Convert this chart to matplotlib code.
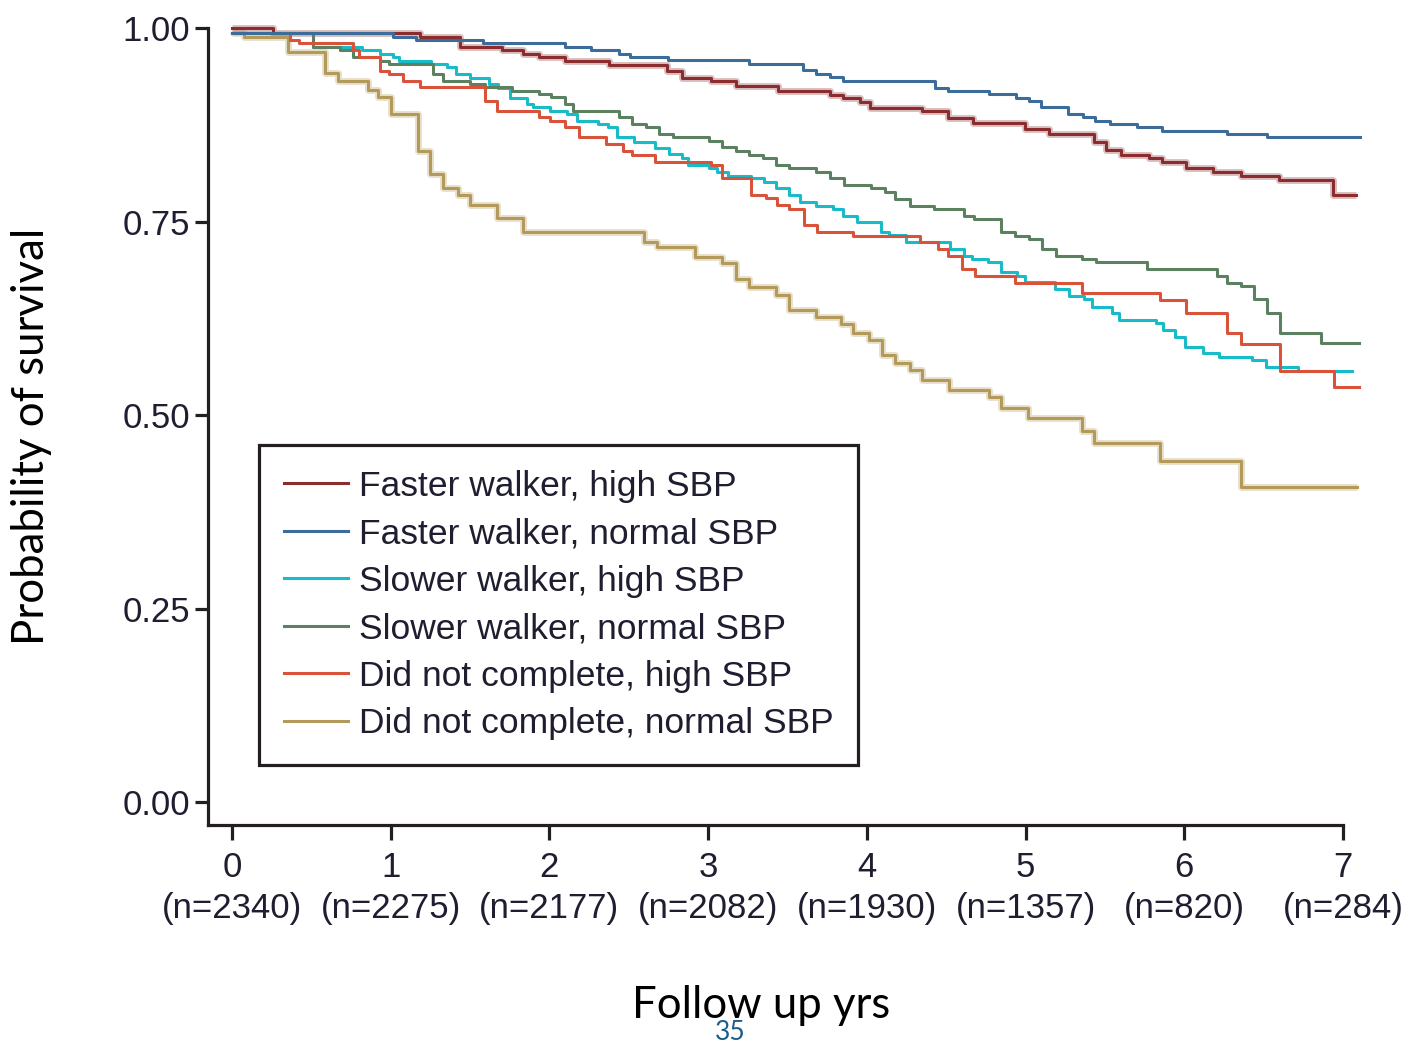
import matplotlib
matplotlib.use("Agg")
import matplotlib.pyplot as plt
from matplotlib import font_manager as fm

# ---------------- data ----------------
years = [0, 1, 2, 3, 4, 5, 6, 7]
at_risk = [2340, 2275, 2177, 2082, 1930, 1357, 820, 284]
yticks = [0.00, 0.25, 0.50, 0.75, 1.00]

labels = ["Faster walker, high SBP", "Faster walker, normal SBP",
          "Slower walker, high SBP", "Slower walker, normal SBP",
          "Did not complete, high SBP", "Did not complete, normal SBP"]
colors = ["#8b2c2f", "#3b6c9a", "#17bcc8", "#5b8160", "#d8533a", "#b39a5a"]

fw_high_t = [0, 0.257, 1.185, 1.438, 1.703, 1.836, 1.933, 2.10, 2.378, 2.74,
             2.837, 3.017, 3.174, 3.44, 3.767, 3.851, 3.96, 4.02, 4.345, 4.51,
             4.67, 4.997, 5.15, 5.43, 5.51, 5.60, 5.78, 5.86, 6.01, 6.18,
             6.36, 6.60, 6.94, 7.08]
fw_high_s = [1.0, 0.993, 0.989, 0.976, 0.971, 0.966, 0.962, 0.958, 0.952, 0.944,
             0.936, 0.932, 0.925, 0.919, 0.913, 0.910, 0.905, 0.897, 0.893, 0.884,
             0.877, 0.870, 0.863, 0.853, 0.842, 0.836, 0.832, 0.827, 0.819, 0.814,
             0.809, 0.804, 0.784, 0.784]

fw_norm_t = [0, 1.016, 1.16, 1.58, 2.10, 2.26, 2.44, 2.51, 2.75, 3.26,
             3.60, 3.68, 3.77, 3.85, 4.43, 4.51, 4.77, 4.94, 5.02, 5.10,
             5.27, 5.36, 5.44, 5.53, 5.70, 5.86, 6.27, 6.52, 7.11]
fw_norm_s = [0.993, 0.989, 0.9845, 0.980, 0.976, 0.972, 0.967, 0.963, 0.959, 0.954,
             0.946, 0.941, 0.937, 0.932, 0.923, 0.919, 0.915, 0.910, 0.906, 0.8975,
             0.889, 0.885, 0.880, 0.876, 0.872, 0.867, 0.863, 0.859, 0.859]

sw_high_t = [0, 0.51, 0.82, 0.932, 1.016, 1.052, 1.257, 1.354, 1.414, 1.498,
             1.619, 1.679, 1.752, 1.86, 1.896, 2.005, 2.113, 2.174, 2.306, 2.367,
             2.427, 2.535, 2.668, 2.752, 2.837, 2.873, 3.006, 3.054, 3.126, 3.27,
             3.355, 3.428, 3.512, 3.577, 3.682, 3.789, 3.851, 3.939, 4.088, 4.138,
             4.25, 4.524, 4.611, 4.661, 4.761, 4.848, 4.948, 4.998, 5.184, 5.272,
             5.371, 5.421, 5.546, 5.590, 5.82, 5.865, 5.944, 6.006, 6.119, 6.218,
             6.43, 6.517, 6.716, 7.06]
sw_high_s = [0.993, 0.976, 0.971, 0.966, 0.962, 0.958, 0.9535, 0.949, 0.9406, 0.936,
             0.928, 0.923, 0.910, 0.902, 0.8975, 0.893, 0.889, 0.880, 0.876, 0.872,
             0.859, 0.853, 0.845, 0.837, 0.832, 0.823, 0.8196, 0.8144, 0.809, 0.806,
             0.8015, 0.793, 0.784, 0.7756, 0.770, 0.766, 0.7575, 0.749, 0.736, 0.732,
             0.723, 0.7145, 0.7058, 0.7016, 0.6973, 0.6843, 0.680, 0.6714, 0.6628, 0.6542,
             0.6499, 0.640, 0.6314, 0.6227, 0.6184, 0.6098, 0.6012, 0.5883, 0.5797, 0.5754,
             0.5711, 0.5624, 0.5573, 0.5573]

sw_norm_t = [0, 0.510, 0.678, 0.763, 0.932, 0.992, 1.269, 1.33, 1.498, 1.595,
             1.764, 1.933, 2.012, 2.10, 2.15, 2.439, 2.523, 2.608, 2.692, 2.776,
             3.005, 3.09, 3.174, 3.259, 3.343, 3.428, 3.512, 3.682, 3.767, 3.854,
             4.026, 4.113, 4.175, 4.275, 4.424, 4.611, 4.674, 4.848, 4.935, 5.022,
             5.102, 5.19, 5.359, 5.446, 5.765, 6.206, 6.268, 6.355, 6.437, 6.522,
             6.605, 6.861, 7.10]
sw_norm_s = [0.993, 0.976, 0.971, 0.963, 0.958, 0.9535, 0.9406, 0.932, 0.9276, 0.9233,
             0.919, 0.9147, 0.9104, 0.9018, 0.8932, 0.8846, 0.876, 0.8717, 0.863, 0.8587,
             0.8544, 0.8458, 0.8415, 0.8359, 0.8316, 0.823, 0.8187, 0.8144, 0.8058, 0.797,
             0.7929, 0.7877, 0.779, 0.7705, 0.7662, 0.7575, 0.7532, 0.736, 0.7317, 0.7274,
             0.7145, 0.705, 0.7016, 0.6973, 0.6886, 0.680, 0.6701, 0.6667, 0.6494, 0.6314,
             0.6055, 0.5926, 0.5926]

dnc_high_t = [0, 0.365, 0.425, 0.763, 0.799, 0.932, 0.992, 1.077, 1.185, 1.595,
              1.67, 1.933, 2.005, 2.10, 2.186, 2.354, 2.463, 2.523, 2.668, 3.018,
              3.09, 3.27, 3.367, 3.435, 3.51, 3.602, 3.689, 3.914, 4.337, 4.45,
              4.512, 4.599, 4.679, 4.935, 5.359, 5.845, 6.014, 6.268, 6.355, 6.605,
              6.946, 7.10]
dnc_high_s = [0.993, 0.9845, 0.980, 0.971, 0.963, 0.945, 0.9406, 0.932, 0.9233, 0.906,
              0.8932, 0.8846, 0.8803, 0.8717, 0.8587, 0.8501, 0.8415, 0.8359, 0.8273, 0.823,
              0.8058, 0.7842, 0.780, 0.771, 0.766, 0.745, 0.736, 0.7317, 0.7231, 0.7145,
              0.705, 0.6886, 0.6792, 0.6701, 0.6572, 0.649, 0.6314, 0.6055, 0.5922, 0.5573,
              0.5357, 0.5357]

dnc_norm_t = [0, 0.076, 0.35, 0.585, 0.67, 0.855, 0.92, 1.004, 1.173, 1.245,
              1.33, 1.426, 1.498, 1.667, 1.836, 2.596, 2.68, 2.92, 3.09, 3.174,
              3.259, 3.428, 3.508, 3.677, 3.839, 3.914, 4.013, 4.096, 4.18, 4.27,
              4.35, 4.519, 4.768, 4.843, 5.017, 5.359, 5.434, 5.85, 6.355, 7.09]
dnc_norm_s = [0.993, 0.989, 0.969, 0.942, 0.9315, 0.920, 0.911, 0.889, 0.8415, 0.812,
              0.793, 0.784, 0.771, 0.754, 0.736, 0.723, 0.7175, 0.7045, 0.696, 0.676,
              0.666, 0.655, 0.636, 0.627, 0.618, 0.606, 0.597, 0.5775, 0.567, 0.558,
              0.545, 0.532, 0.523, 0.5095, 0.4966, 0.479, 0.4634, 0.4406, 0.4074, 0.4074]

series_t = [fw_high_t, fw_norm_t, sw_high_t, sw_norm_t, dnc_high_t, dnc_norm_t]
series_s = [fw_high_s, fw_norm_s, sw_high_s, sw_norm_s, dnc_high_s, dnc_norm_s]

# ---------------- fonts ----------------
names = {f.name for f in fm.fontManager.ttflist}
if "Liberation Sans Narrow" in names:
    tick_family, tick_size, leg_size = "Liberation Sans Narrow", 28, 30
else:
    tick_family, tick_size, leg_size = "Liberation Sans", 25, 25.5
label_family = "Lato" if "Lato" in names else "DejaVu Sans"

# ---------------- figure ----------------
W, H = 1412, 1046
fig = plt.figure(figsize=(W / 100, H / 100), dpi=100)

# pixel geometry of the data area
x0_px, x_per = 232.0, 158.7     # x=0 position, px per year
y0_px, y_per = 802.0, 774.0     # y=0 position, px per unit
xmin, xmax = -0.151, 7.13
ymin, ymax = -0.0297, 1.01
left_px = x0_px + xmin * x_per
right_px = x0_px + xmax * x_per
bottom_px = y0_px - ymin * y_per
top_px = y0_px - ymax * y_per
ax = fig.add_axes([left_px / W, 1 - bottom_px / H,
                   (right_px - left_px) / W, (bottom_px - top_px) / H])
ax.set_xlim(xmin, xmax)
ax.set_ylim(ymin, ymax)

ink = "#231f20"
txt = "#1e1e30"
for side in ["top", "right"]:
    ax.spines[side].set_visible(False)
for side in ["left", "bottom"]:
    ax.spines[side].set_linewidth(2.3)
    ax.spines[side].set_color(ink)
ax.spines["bottom"].set_bounds(xmin, 7.0)
ax.spines["left"].set_bounds(ymin, 1.0)

draw_order = [5, 0, 2, 3, 4, 1]
handles = {}
for i in draw_order:
    if i in (0, 5):
        ax.step(series_t[i], series_s[i], where="post", color=colors[i],
                lw=5.0, alpha=0.3, solid_capstyle="butt", zorder=1)
    ln, = ax.step(series_t[i], series_s[i], where="post", color=colors[i],
                  lw=2.2, label=labels[i], zorder=2 + draw_order.index(i))
    handles[i] = ln

ax.set_yticks(yticks)
ax.set_yticklabels([f"{v:.2f}" for v in yticks])
ax.set_xticks(years)
ax.set_xticklabels([f"{y}\n(n={n})" for y, n in zip(years, at_risk)],
                   linespacing=1.32)
ax.tick_params(axis="y", direction="out", length=9.5, width=2.3, color=ink,
               pad=3.5, labelcolor=txt)
ax.tick_params(axis="x", direction="out", length=10.5, width=2.3, color=ink,
               pad=8, labelcolor=txt)
for lab in ax.get_yticklabels() + ax.get_xticklabels():
    lab.set_family(tick_family)
    lab.set_fontsize(tick_size)

leg = ax.legend([handles[i] for i in range(6)], labels,
                loc="upper left", bbox_to_anchor=(259 / W, 1 - 445 / H),
                bbox_transform=fig.transFigure, borderaxespad=0,
                prop=fm.FontProperties(family=tick_family, size=leg_size),
                frameon=True, fancybox=False, framealpha=1,
                handlelength=1.8, handletextpad=0.32, labelspacing=0.41,
                borderpad=0.7)
leg.get_frame().set_linewidth(2.3)
leg.get_frame().set_edgecolor(ink)
for t in leg.get_texts():
    t.set_color(txt)

fig.text(761 / W, 1 - 1018 / H, "Follow up yrs", family=label_family,
         fontsize=31.5, ha="center", va="baseline", color="black")
fig.text(32 / W, 1 - 436 / H, "Probability of survival", family=label_family,
         fontsize=31.5, ha="center", va="center", rotation=90, color="black")
fig.text(730 / W, 1 - 1033 / H, "35", family=label_family, fontsize=19,
         ha="center", va="center", color="#1f5c87")

fig.savefig("out.png", dpi=100)
